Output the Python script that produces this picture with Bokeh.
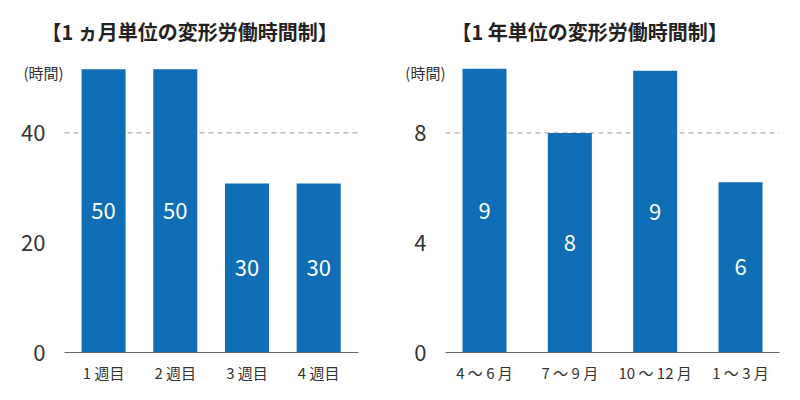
from bokeh.plotting import figure
from bokeh.models import ColumnDataSource, Span, Label, FixedTicker
from bokeh.layouts import row
from bokeh.embed import file_html
from bokeh.resources import INLINE
from bokeh.core.properties import value

# ---- data ----
month_title = "【1 ヵ月単位の変形労働時間制】"
month_categories = ["1 週目", "2 週目", "3 週目", "4 週目"]
month_labels = ["50", "50", "30", "30"]
month_heights = [51.6, 51.6, 30.8, 30.8]
month_ticks = [0, 20, 40]
month_limit = 40

year_title = "【1 年単位の変形労働時間制】"
year_categories = ["4 ～ 6 月", "7 ～ 9 月", "10 ～ 12 月", "1 ～ 3 月"]
year_labels = ["9", "8", "9", "6"]
year_heights = [10.34, 8.0, 10.27, 6.2]
year_ticks = [0, 4, 8]
year_limit = 8

unit_label = "(時間)"

FONT = "Noto Sans CJK JP"
BAR = "#106EB7"
TXT = "#333333"


def panel(title, cats, labels, heights, ticks, limit, xr, ymax, bw,
          title_x, title_y, unit_x, unit_y, w, bl, br):
    xs = list(range(len(cats)))
    src = ColumnDataSource(dict(x=xs, top=heights, mid=[h / 2 for h in heights], label=labels))
    p = figure(width=w, height=392, x_range=xr, y_range=(0, ymax),
               output_backend="svg", toolbar_location=None,
               min_border_left=bl, min_border_right=br,
               min_border_top=60, min_border_bottom=40)
    p.outline_line_color = None
    p.xgrid.visible = False
    p.ygrid.visible = False

    p.add_layout(Span(location=limit, dimension="width", line_color="#999999",
                      line_width=1, line_dash="5 4", level="underlay"))

    p.vbar(x="x", top="top", width=bw, bottom=0, source=src,
           fill_color=BAR, line_color=None)
    p.text(x="x", y="mid", text="label", source=src, text_align="center",
           text_baseline="middle", text_color="white", text_font_size="22px",
           text_font=value(FONT))

    p.xaxis.ticker = FixedTicker(ticks=xs)
    p.xaxis.major_label_overrides = {i: c for i, c in enumerate(cats)}
    p.xaxis.axis_line_color = "#666666"
    p.xaxis.major_tick_line_color = None
    p.xaxis.minor_tick_line_color = None
    p.xaxis.major_label_standoff = 3
    p.xaxis.major_label_text_font = FONT
    p.xaxis.major_label_text_font_size = "15px"
    p.xaxis.major_label_text_color = TXT

    p.yaxis.ticker = FixedTicker(ticks=ticks)
    p.yaxis.axis_line_color = None
    p.yaxis.major_tick_line_color = None
    p.yaxis.minor_tick_line_color = None
    p.yaxis.major_label_standoff = 13
    p.yaxis.major_label_text_font = FONT
    p.yaxis.major_label_text_font_size = "22px"
    p.yaxis.major_label_text_color = TXT

    p.add_layout(Label(x=title_x, y=title_y, text=title, text_align="center",
                       text_baseline="middle", text_font=FONT, text_font_size="20px",
                       text_font_style="bold", text_color="#222222"), "above")
    p.add_layout(Label(x=unit_x, y=unit_y, text=unit_label, text_align="right",
                       text_baseline="middle", text_font=FONT, text_font_size="15px",
                       text_color=TXT), "above")
    return p


p1 = panel(month_title, month_categories, month_labels, month_heights, month_ticks,
           month_limit, (-0.545, 3.555), 53.19, 0.614,
           1.2, 58.5, -0.558, 51.05, 400, 64, 42)
p2 = panel(year_title, year_categories, year_labels, year_heights, year_ticks,
           year_limit, (-0.457, 3.457), 10.64, 0.516,
           1.231, 11.7, -0.457, 10.21, 392, 45, 13)

layout = row(p1, p2)
open("out.html", "w").write(file_html(layout, INLINE))
